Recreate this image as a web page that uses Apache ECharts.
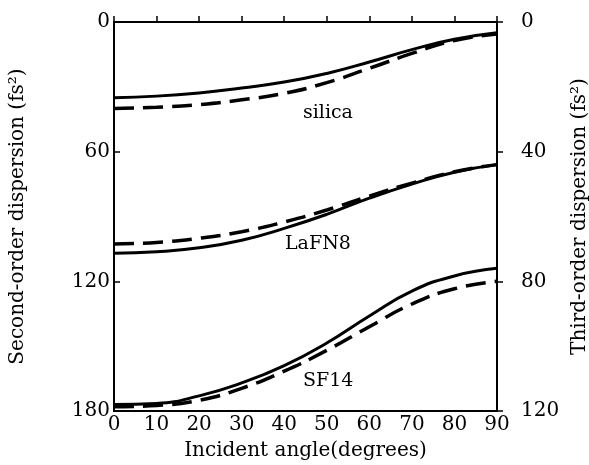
<!DOCTYPE html>
<html>
<head>
<meta charset="utf-8">
<script src="https://cdn.jsdelivr.net/npm/echarts@6/dist/echarts.min.js"></script>
<style>
  html, body { margin: 0; padding: 0; background: #fff; }
  #chart { width: 589px; height: 465px; }
</style>
</head>
<body>
<div id="chart"></div>
<script>
// incident angle (degrees)
const angles = [0, 10, 20, 30, 40, 50, 60, 70, 80, 90]

// solid lines: second-order dispersion (fs^2), left axis
const silicaSecond = [35, 34.3, 32.8, 30.5, 27.8, 23.8, 18.5, 12.8, 8, 5]
const lafn8Second = [107, 106.3, 104.5, 101, 95.5, 89, 81.5, 75, 69.5, 66]
const sf14Second = [177, 176.5, 173, 167, 159, 148.5, 136, 124.5, 117.5, 114]

// dashed lines: third-order dispersion, right axis
const silicaThird = [26.7, 26.3, 25.5, 24, 22, 18.7, 14.3, 9.7, 5.7, 3.7]
const lafn8Third = [68.5, 68, 66.7, 64.7, 61.7, 58, 53.7, 49.7, 46.2, 44]
const sf14Third = [118.7, 118.3, 116.7, 113, 107.7, 101.3, 94, 87, 82.3, 80]

const font = 'DejaVu Serif'

function pairs (ys) {
  return angles.map((a, i) => [a, ys[i]])
}

function solid (name, ys) {
  return {
    name: name,
    type: 'line',
    yAxisIndex: 0,
    data: pairs(ys),
    smooth: true,
    symbol: 'none',
    lineStyle: { color: '#000', width: 3 }
  }
}

function dashed (name, ys) {
  return {
    name: name,
    type: 'line',
    yAxisIndex: 1,
    data: pairs(ys),
    smooth: true,
    symbol: 'none',
    lineStyle: { color: '#000', width: 3.5, type: [20, 9] }
  }
}

const chart = echarts.init(document.getElementById('chart'))

const option = {
  animation: false,
  backgroundColor: '#fff',
  grid: {
    left: 114,
    right: 92,
    top: 22,
    bottom: 54,
    outerBoundsMode: 'none',
    show: true,
    borderColor: '#000',
    borderWidth: 2
  },
  xAxis: {
    type: 'value',
    min: 0,
    max: 90,
    interval: 10,
    name: 'Incident angle(degrees)',
    nameLocation: 'middle',
    nameGap: 30,
    nameTextStyle: { fontFamily: font, fontSize: 20, color: '#000' },
    axisLine: { lineStyle: { color: '#000', width: 2 } },
    axisTick: { inside: true, length: 6, lineStyle: { color: '#000', width: 1.5 } },
    axisLabel: { fontFamily: font, fontSize: 20, color: '#000', margin: 4 },
    splitLine: { show: false }
  },
  yAxis: [
    {
      type: 'value',
      inverse: true,
      min: 0,
      max: 180,
      interval: 60,
      name: 'Second-order dispersion (fs²)',
      nameLocation: 'middle',
      nameGap: 86,
      nameRotate: 90,
      nameTextStyle: { fontFamily: font, fontSize: 20, color: '#000' },
      axisLine: { show: true, lineStyle: { color: '#000', width: 2 } },
      axisTick: { inside: true, length: 6, lineStyle: { color: '#000', width: 1.5 } },
      axisLabel: { fontFamily: font, fontSize: 20, color: '#000', margin: 4 },
      splitLine: { show: false }
    },
    {
      type: 'value',
      inverse: true,
      min: 0,
      max: 120,
      interval: 40,
      name: 'Third-order dispersion (fs²)',
      nameLocation: 'middle',
      nameGap: 73,
      nameRotate: 90,
      nameTextStyle: { fontFamily: font, fontSize: 20, color: '#000' },
      axisLine: { show: true, lineStyle: { color: '#000', width: 2 } },
      axisTick: { inside: false, length: 6, lineStyle: { color: '#000', width: 1.5 } },
      axisLabel: { fontFamily: font, fontSize: 20, color: '#000', margin: 24 },
      splitLine: { show: false }
    }
  ],
  graphic: [
    { type: 'text', left: 303, top: 104, style: { text: 'silica', font: '19px "DejaVu Serif"', fill: '#000' } },
    { type: 'text', left: 285, top: 235, style: { text: 'LaFN8', font: '19px "DejaVu Serif"', fill: '#000' } },
    { type: 'text', left: 303, top: 372, style: { text: 'SF14', font: '19px "DejaVu Serif"', fill: '#000' } }
  ],
  series: [
    solid('silica second', silicaSecond),
    dashed('silica third', silicaThird),
    solid('LaFN8 second', lafn8Second),
    dashed('LaFN8 third', lafn8Third),
    solid('SF14 second', sf14Second),
    dashed('SF14 third', sf14Third)
  ]
}

chart.setOption(option)
</script>
</body>
</html>
